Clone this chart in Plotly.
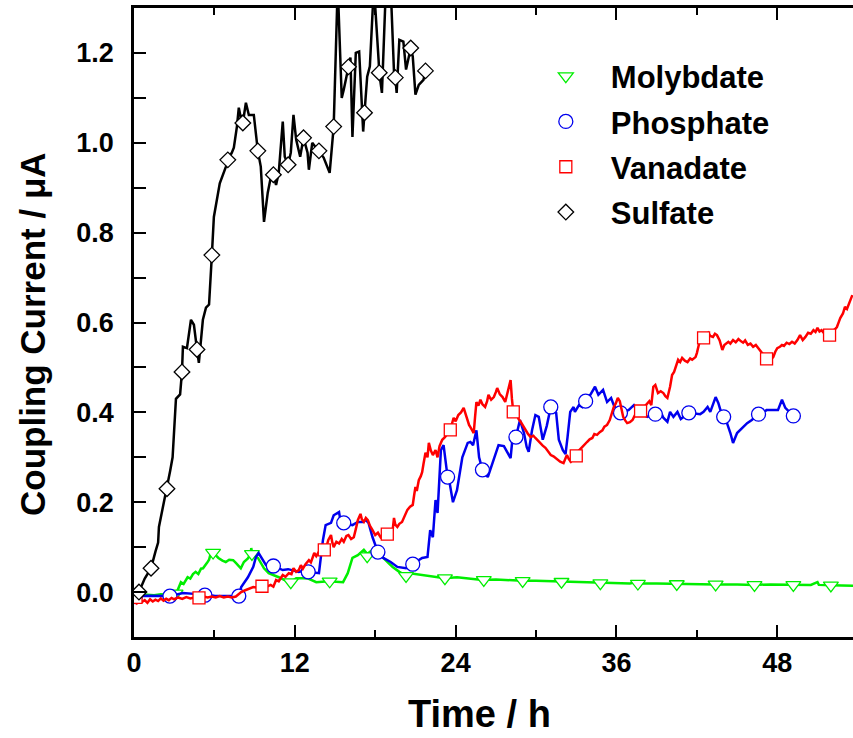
import plotly.graph_objects as go

# ---------------- data ----------------
# Sulfate (black line)
sul_t = [0.2,0.37,0.8,1.27,1.6,1.8,1.86,2.46,2.7,2.88,3.13,3.44,3.58,3.65,3.95,4.25,4.47,4.7,4.84,5.14,5.37,5.6,5.74,5.81,5.96,6.4,6.86,7.0,7.3,7.45,7.68,7.82,7.97,8.05,8.12,8.35,8.57,8.94,9.24,9.46,9.7,9.98,10.2,10.4,10.6,10.8,11.1,11.25,11.5,11.7,11.9,12.1,12.4,12.6,12.65,12.95,13.05,13.3,13.55,13.8,14.15,14.6,14.9,15.2,15.5,15.65,16.0,16.15,16.3,16.55,16.8,17.1,17.2,17.4,17.6,17.9,18.25,18.3,18.5,18.8,19.15,19.4,19.5,19.6,19.8,20.1,20.3,20.65,20.8,21.0,21.25,21.6,21.75]
sul_v = [-0.005,0.0,0.03,0.053,0.09,0.11,0.145,0.23,0.27,0.30,0.43,0.44,0.49,0.546,0.543,0.606,0.595,0.54,0.51,0.606,0.633,0.64,0.733,0.75,0.835,0.91,0.947,0.962,0.978,0.989,1.036,1.078,1.056,1.062,1.044,1.089,1.062,1.062,0.982,0.947,0.824,0.889,0.922,0.929,0.906,0.933,1.047,0.969,0.951,0.978,1.062,1.007,0.969,1.007,1.011,0.978,0.94,1.0,0.991,0.982,0.967,0.933,1.036,1.35,1.10,1.118,1.169,1.19,1.013,1.2,1.203,1.025,1.067,1.147,1.17,1.35,1.185,1.156,1.111,1.35,1.35,1.158,1.145,1.111,1.229,1.225,1.163,1.211,1.192,1.107,1.129,1.14,1.16]
sul_mt = [0.37,1.27,2.46,3.58,4.7,5.81,7.0,8.12,9.24,10.4,11.5,12.65,13.8,14.9,16.0,17.2,18.3,19.5,20.65,21.75]
sul_mv = [0.0,0.053,0.23,0.49,0.54,0.75,0.962,1.044,0.982,0.929,0.951,1.011,0.982,1.036,1.169,1.067,1.156,1.145,1.211,1.16]

# Molybdate (green line)
mol_t = [0.0,0.5,1.0,1.5,2.0,2.5,3.0,3.2,3.5,3.7,4.0,4.2,4.4,4.6,4.8,5.0,5.15,5.3,5.45,5.6,5.75,5.9,6.1,6.3,6.6,6.85,7.1,7.4,7.6,7.97,8.2,8.5,8.7,8.75,8.85,9.25,9.7,10.05,10.8,11.2,11.7,12.1,12.6,13.0,13.6,14.5,15.6,15.95,16.3,16.7,17.15,17.4,17.8,18.4,18.9,19.3,19.8,20.3,20.6,21.6,22.5,23.2,24.1,25.0,26.0,27.0,28.0,29.0,30.0,31.0,32.0,33.0,34.0,34.8,36.0,37.0,37.8,37.9,39.0,40.5,42.0,43.4,45.0,46.3,47.5,49.2,50.5,51.0,51.1,52.0,53.65]
mol_v = [-0.005,-0.008,-0.006,-0.007,-0.005,-0.006,-0.004,0.0,0.022,0.018,0.033,0.03,0.04,0.045,0.04,0.052,0.053,0.058,0.065,0.072,0.089,0.088,0.082,0.076,0.07,0.067,0.072,0.071,0.065,0.053,0.067,0.075,0.085,0.098,0.08,0.076,0.053,0.042,0.033,0.027,0.022,0.031,0.031,0.03,0.022,0.024,0.022,0.042,0.076,0.082,0.094,0.085,0.094,0.082,0.067,0.056,0.045,0.036,0.042,0.038,0.035,0.031,0.033,0.03,0.027,0.028,0.026,0.025,0.025,0.024,0.023,0.022,0.021,0.020,0.020,0.019,0.024,0.019,0.019,0.018,0.018,0.017,0.017,0.016,0.017,0.016,0.016,0.022,0.016,0.015,0.014]
mol_mt = [0.2,3.1,5.9,8.8,11.7,14.6,17.4,20.3,23.2,26.1,29.0,31.9,34.8,37.6,40.5,43.4,46.3,49.2,52.0]
mol_mv = [-0.005,-0.003,0.088,0.085,0.022,0.024,0.08,0.036,0.031,0.027,0.025,0.023,0.02,0.019,0.018,0.017,0.016,0.016,0.015]

# Phosphate (blue line)
pho_t = [0.0,1.0,2.68,3.2,3.65,4.5,5.29,6.0,7.0,7.82,8.0,8.5,8.9,9.1,9.3,9.55,9.85,10.4,11.1,11.5,12.3,12.8,13.0,13.8,14.1,14.3,14.7,14.9,15.3,15.4,15.65,16.3,16.7,17.05,17.3,17.5,17.8,18.2,18.6,19.15,19.65,20.3,20.8,21.5,21.9,22.1,22.3,22.5,22.65,22.9,23.1,23.4,23.55,23.8,24.1,24.5,24.9,25.1,25.3,25.55,25.75,26.0,26.4,26.85,27.2,27.6,27.85,28.1,28.3,28.5,28.8,29.1,29.3,29.45,29.7,29.95,30.2,30.5,30.8,31.1,31.5,31.7,32.0,32.2,32.35,32.55,32.8,32.9,33.2,33.45,33.7,34.05,34.4,34.65,35.0,35.3,35.6,35.8,36.2,36.9,37.3,37.6,38.3,38.9,39.3,39.5,39.8,40.0,40.25,40.55,40.8,41.4,42.25,42.5,42.8,43.0,43.4,43.6,43.8,44.0,44.25,44.5,44.7,45.0,45.4,45.75,46.1,46.6,46.9,47.2,47.7,48.05,48.35,48.6,49.2]
pho_v = [-0.01,-0.008,-0.009,-0.006,-0.002,-0.004,-0.007,-0.008,-0.008,-0.009,0.011,0.033,0.056,0.078,0.087,0.076,0.06,0.058,0.049,0.051,0.045,0.049,0.045,0.042,0.116,0.149,0.154,0.171,0.178,0.16,0.154,0.149,0.156,0.156,0.16,0.154,0.122,0.089,0.076,0.067,0.056,0.053,0.062,0.076,0.078,0.138,0.122,0.205,0.176,0.316,0.327,0.256,0.243,0.2,0.227,0.3,0.332,0.334,0.327,0.36,0.3,0.272,0.256,0.294,0.327,0.325,0.31,0.298,0.36,0.345,0.383,0.354,0.323,0.312,0.36,0.394,0.39,0.339,0.37,0.412,0.399,0.339,0.316,0.307,0.345,0.401,0.412,0.401,0.416,0.412,0.425,0.439,0.457,0.439,0.45,0.423,0.432,0.416,0.399,0.405,0.416,0.402,0.39,0.396,0.401,0.388,0.379,0.401,0.39,0.401,0.385,0.399,0.396,0.401,0.412,0.401,0.434,0.421,0.401,0.39,0.376,0.354,0.332,0.354,0.367,0.376,0.383,0.396,0.399,0.405,0.405,0.405,0.428,0.41,0.392]
pho_mt = [0.1,2.68,5.29,7.82,10.4,13.0,15.65,18.2,20.8,23.4,26.0,28.5,31.1,33.7,36.3,38.9,41.4,44.0,46.6,49.2]
pho_mv = [-0.01,-0.009,-0.007,-0.009,0.058,0.045,0.154,0.089,0.062,0.256,0.272,0.345,0.412,0.425,0.399,0.396,0.399,0.39,0.396,0.392]

# Vanadate (red line)
van_t = [0.0,0.2,0.4,0.6,0.8,1.0,1.2,1.4,1.6,1.8,2.0,2.2,2.4,2.6,2.8,3.0,3.3,3.6,3.9,4.2,4.5,4.85,5.2,5.5,5.8,6.1,6.4,6.7,7.0,7.3,7.6,7.8,8.0,8.3,8.6,8.9,9.2,9.55,9.9,10.2,10.4,10.6,10.8,11.1,11.3,11.55,11.75,11.9,12.1,12.3,12.45,12.6,12.8,13.05,13.2,13.45,13.6,13.8,14.0,14.2,14.35,14.5,14.7,14.8,14.9,15.1,15.3,15.5,15.65,15.85,16.0,16.2,16.4,16.55,16.7,16.9,17.0,17.15,17.3,17.45,17.6,17.8,18.0,18.2,18.4,18.6,18.9,19.1,19.3,19.4,19.5,19.65,19.8,20.0,20.2,20.4,20.6,20.8,20.9,21.0,21.1,21.25,21.4,21.5,21.6,21.75,21.9,22.0,22.15,22.3,22.5,22.65,22.8,23.0,23.2,23.4,23.6,23.85,24.0,24.2,24.4,24.6,24.75,24.85,25.0,25.1,25.35,25.45,25.55,25.7,25.85,26.0,26.2,26.35,26.45,26.65,26.85,27.0,27.1,27.3,27.5,27.7,27.85,27.95,28.1,28.2,28.3,28.5,28.7,28.85,29.0,29.2,29.4,29.6,29.8,29.95,30.1,30.3,30.5,30.7,30.9,31.1,31.3,31.45,31.6,31.8,32.05,32.2,32.3,32.45,32.6,32.8,33.0,33.2,33.45,33.6,33.8,34.0,34.2,34.35,34.55,34.75,34.95,35.1,35.3,35.5,35.65,35.8,35.95,36.1,36.25,36.4,36.5,36.65,36.8,37.0,37.2,37.35,37.5,37.8,38.0,38.3,38.45,38.6,38.75,38.9,39.0,39.1,39.3,39.5,39.65,39.8,40.0,40.15,40.3,40.4,40.6,40.75,40.9,41.1,41.3,41.5,41.65,41.9,42.0,42.2,42.5,42.7,42.85,43.0,43.2,43.35,43.5,43.7,43.9,44.05,44.2,44.35,44.5,44.7,44.9,45.1,45.3,45.45,45.6,45.8,46.0,46.2,46.4,46.6,46.75,46.9,47.05,47.2,47.35,47.5,47.7,47.85,48.0,48.2,48.35,48.5,48.7,48.9,49.1,49.3,49.5,49.7,49.9,50.1,50.3,50.5,50.7,50.85,51.0,51.15,51.3,51.5,51.7,51.9,52.1,52.3,52.45,52.6,52.7,52.9,53.05,53.2,53.3,53.45,53.6]
van_v = [-0.02,-0.025,-0.015,-0.022,-0.018,-0.024,-0.016,-0.021,-0.017,-0.02,-0.014,-0.019,-0.015,-0.018,-0.013,-0.016,-0.012,-0.015,-0.011,-0.014,-0.012,-0.013,-0.01,-0.012,-0.01,-0.012,-0.009,-0.012,-0.01,-0.012,-0.01,-0.004,0.0,0.004,0.008,0.011,0.01,0.013,0.012,0.016,0.012,0.027,0.024,0.038,0.034,0.042,0.04,0.053,0.045,0.049,0.06,0.052,0.062,0.071,0.066,0.087,0.08,0.09,0.085,0.094,0.1,0.116,0.127,0.11,0.1,0.112,0.108,0.118,0.112,0.125,0.127,0.118,0.122,0.14,0.16,0.174,0.162,0.156,0.165,0.16,0.148,0.138,0.127,0.132,0.122,0.128,0.129,0.134,0.138,0.165,0.15,0.145,0.152,0.156,0.17,0.183,0.19,0.194,0.215,0.234,0.225,0.249,0.258,0.267,0.285,0.31,0.3,0.332,0.315,0.305,0.316,0.3,0.325,0.339,0.345,0.352,0.361,0.388,0.38,0.394,0.4,0.41,0.395,0.388,0.372,0.367,0.354,0.39,0.423,0.415,0.428,0.418,0.412,0.425,0.439,0.428,0.434,0.445,0.454,0.44,0.434,0.423,0.44,0.457,0.472,0.43,0.401,0.399,0.385,0.379,0.372,0.36,0.352,0.345,0.348,0.343,0.338,0.332,0.326,0.321,0.312,0.305,0.302,0.298,0.294,0.29,0.287,0.3,0.305,0.296,0.29,0.297,0.303,0.315,0.323,0.33,0.334,0.34,0.343,0.352,0.35,0.356,0.36,0.368,0.372,0.383,0.4,0.412,0.42,0.432,0.425,0.405,0.39,0.382,0.376,0.378,0.383,0.392,0.399,0.403,0.41,0.421,0.425,0.416,0.457,0.461,0.45,0.443,0.447,0.443,0.436,0.432,0.457,0.483,0.49,0.501,0.517,0.512,0.521,0.515,0.512,0.52,0.517,0.523,0.532,0.557,0.566,0.572,0.577,0.57,0.568,0.575,0.572,0.56,0.539,0.55,0.553,0.557,0.553,0.561,0.556,0.563,0.558,0.555,0.56,0.55,0.553,0.546,0.55,0.543,0.538,0.532,0.525,0.519,0.515,0.517,0.523,0.535,0.543,0.546,0.55,0.548,0.555,0.552,0.557,0.553,0.561,0.572,0.561,0.568,0.577,0.575,0.583,0.579,0.588,0.58,0.583,0.576,0.57,0.572,0.58,0.585,0.59,0.602,0.61,0.62,0.635,0.63,0.639,0.648,0.661]
van_mt = [0.15,4.85,9.55,14.2,18.9,23.6,28.3,33.0,37.8,42.5,47.2,51.9]
van_mv = [-0.012,-0.013,0.013,0.094,0.129,0.361,0.401,0.303,0.403,0.566,0.519,0.572]

x_ticks = [0, 12, 24, 36, 48]
y_ticks = [0.0, 0.2, 0.4, 0.6, 0.8, 1.0, 1.2]
y_labels = ["0.0", "0.2", "0.4", "0.6", "0.8", "1.0", "1.2"]
x_title = "Time / h"
y_title = "Coupling Current / μA"

# ---------------- figure ----------------
series = [
    ("Molybdate", mol_t, mol_v, mol_mt, mol_mv, "#00ee00", "triangle-down", 13),
    ("Phosphate", pho_t, pho_v, pho_mt, pho_mv, "#0000ee", "circle", 14),
    ("Vanadate", van_t, van_v, van_mt, van_mv, "#ff0000", "square", 12),
    ("Sulfate", sul_t, sul_v, sul_mt, sul_mv, "#000000", "diamond", 12),
]

fig = go.Figure()
for name, lt, lv, mt, mv, col, sym, sz in series:
    fig.add_trace(go.Scatter(x=lt, y=lv, mode="lines", line=dict(color=col, width=2.5),
                             showlegend=False, hoverinfo="skip"))
    fig.add_trace(go.Scatter(x=mt, y=mv, mode="markers", name=name, legendgroup=name,
                             marker=dict(symbol=sym, size=sz, color="white",
                                         line=dict(color=col, width=1.3)),
                             cliponaxis=True))

tickfont = dict(family="Liberation Sans Narrow, Arial Narrow, Liberation Sans, Arial", size=27,
                color="black", weight="bold")

fig.update_layout(
    width=853, height=738,
    margin=dict(l=134, r=0, t=8, b=101),
    paper_bgcolor="white", plot_bgcolor="white",
    legend=dict(x=0.538, y=0.934, xanchor="left", yanchor="top",
                font=dict(family="Liberation Sans, Arial", size=31, color="black", weight="bold"),
                bgcolor="rgba(0,0,0,0)", traceorder="grouped", tracegroupgap=2,
                itemwidth=80),
    xaxis=dict(range=[0, 53.65], tickvals=x_ticks, ticks="inside", ticklen=12, tickwidth=2,
               tickcolor="black", showline=True, linewidth=2.5, linecolor="black",
               mirror="ticks", showgrid=False, zeroline=False, tickfont=tickfont,
               ticklabelstandoff=0,
               minor=dict(dtick=6, tick0=0, ticks="inside", ticklen=7, tickwidth=2, tickcolor="black")),
    yaxis=dict(range=[-0.1, 1.3], tickvals=y_ticks, ticktext=y_labels, ticks="inside", ticklen=12,
               tickwidth=2, tickcolor="black", showline=True, linewidth=2.5, linecolor="black",
               showgrid=False, zeroline=False, tickfont=tickfont, ticklabelstandoff=12,
               minor=dict(dtick=0.1, tick0=0, ticks="inside", ticklen=12, tickwidth=2, tickcolor="black")),
    annotations=[
        dict(text=x_title, xref="paper", yref="paper",
             x=(479 - 134) / 719, y=-(737 - 637) / 629, xanchor="center", yanchor="bottom",
             showarrow=False, font=dict(family="Liberation Sans, Arial", size=38, color="black", weight="bold")),
        dict(text=y_title, xref="paper", yref="paper", textangle=-90,
             x=-(134 - 32) / 719, y=1 - (334 - 8) / 629, xanchor="center", yanchor="middle",
             showarrow=False, font=dict(family="Liberation Sans, Arial", size=35, color="black", weight="bold")),
    ],
)

fig.write_html("out.html")
